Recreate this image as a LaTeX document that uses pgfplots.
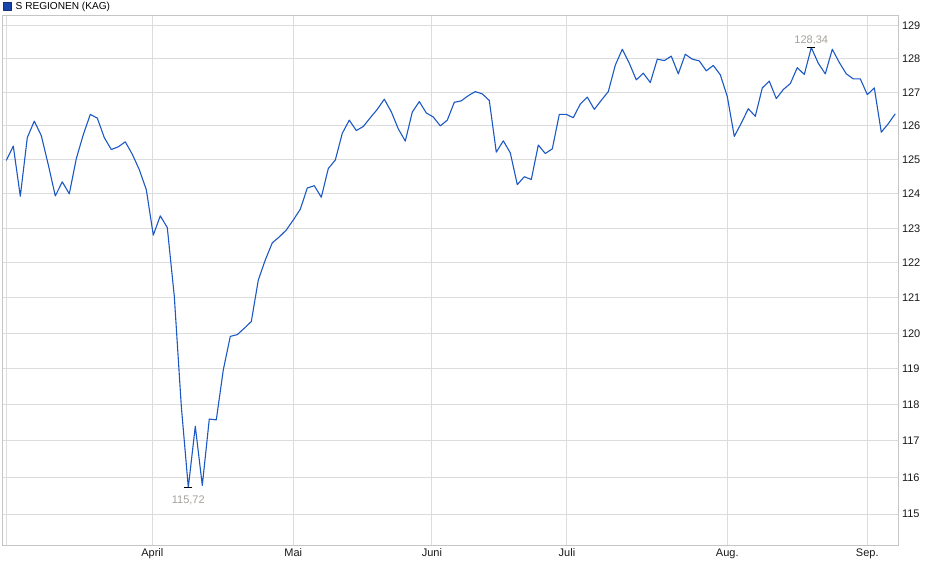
\documentclass[border=0pt]{standalone}
\usepackage{pgfplots}
\pgfplotsset{compat=1.18}
\usepackage{fontspec}
\setmainfont{Liberation Sans}

\definecolor{lineblue}{RGB}{28,88,196}
\definecolor{boxblue}{RGB}{22,70,170}
\definecolor{gridgray}{RGB}{220,220,220}
\definecolor{labelgray}{RGB}{165,160,155}

\begin{document}
\begin{tikzpicture}
\begin{axis}[
  scale only axis,
  width=895.6pt, height=529.3pt,
  % logarithmische Skala, von Hand (ymode=log laeuft bei so kleiner Spanne ueber)
  y coord trafo/.code={\pgfmathparse{1000*ln(#1/114)}},
  xmin=-0.514, xmax=127.43,
  ymin=114.16, ymax=129.3,
  xtick={0,20.86,41,60.81,80.1,103,123},
  xticklabels={,April,Mai,Juni,Juli,Aug.,Sep.},
  ytick={115,116,117,118,119,120,121,122,123,124,125,126,127,128,129},
  yticklabels={115,116,117,118,119,120,121,122,123,124,125,126,127,128,129},
  yticklabel pos=right,
  minor tick num=0,
  major tick length=0pt,
  /pgf/number format/assume math mode=true,
  tick label style={font=\fontsize{11}{13}\selectfont, text=black!90, inner sep=0pt},
  xticklabel style={anchor=north, yshift=-3pt},
  yticklabel style={anchor=west, xshift=3.5pt},
  grid=major,
  major grid style={gridgray, line width=1pt},
  axis line style={gridgray!90!black, line width=1pt},
  legend style={at={(axis description cs:0.0003,1.0055)}, anchor=south west,
    draw=none, fill=none, inner sep=0pt, outer sep=0pt,
    font=\fontsize{10.1}{12}\selectfont,
    legend cell align=left},
  legend image code/.code={%
    \draw[boxblue!70!black, fill=boxblue, line width=0.8pt] (0pt,-3.8pt) rectangle (7.6pt,3.8pt);
    \path (9.8pt,0pt);},
]
\addplot[lineblue, line width=1.1pt, line join=round] coordinates {
(0,124.98) (1,125.40) (2,123.93) (3,125.65) (4,126.14) (5,125.71) (6,124.85) (7,123.94)
(8,124.35) (9,124.00) (10,125.03) (11,125.74) (12,126.34) (13,126.23) (14,125.65) (15,125.30)
(16,125.38) (17,125.53) (18,125.16) (19,124.71) (20,124.12) (21,122.80) (22,123.36) (23,123.02)
(24,121.05) (25,117.96) (26,115.72) (27,117.40) (28,115.78) (29,117.60) (30,117.58) (31,118.97)
(32,119.91) (33,119.96) (34,120.14) (35,120.33) (36,121.51) (37,122.09) (38,122.58) (39,122.75)
(40,122.95) (41,123.24) (42,123.55) (43,124.17) (44,124.24) (45,123.90) (46,124.74) (47,124.99)
(48,125.78) (49,126.17) (50,125.86) (51,125.98) (52,126.24) (53,126.49) (54,126.79) (55,126.42)
(56,125.91) (57,125.55) (58,126.41) (59,126.72) (60,126.38) (61,126.26) (62,126.00) (63,126.17)
(64,126.70) (65,126.74) (66,126.90) (67,127.02) (68,126.95) (69,126.75) (70,125.22) (71,125.56)
(72,125.20) (73,124.27) (74,124.50) (75,124.42) (76,125.43) (77,125.18) (78,125.32) (79,126.34)
(80,126.34) (81,126.24) (82,126.65) (83,126.85) (84,126.49) (85,126.76) (86,127.02) (87,127.81)
(88,128.29) (89,127.87) (90,127.37) (91,127.57) (92,127.29) (93,127.99) (94,127.95) (95,128.08)
(96,127.55) (97,128.14) (98,127.99) (99,127.94) (100,127.64) (101,127.80) (102,127.52) (103,126.87)
(104,125.69) (105,126.08) (106,126.51) (107,126.28) (108,127.13) (109,127.33) (110,126.81) (111,127.08)
(112,127.26) (113,127.74) (114,127.53) (115,128.34) (116,127.87) (117,127.55) (118,128.29) (119,127.89)
(120,127.55) (121,127.40) (122,127.40) (123,126.93) (124,127.13) (125,125.81) (126,126.06) (127,126.36)
};
\addlegendentry{S REGIONEN (KAG)}
% Tief und Hoch markieren
\addplot[only marks, mark=-, mark size=4pt, mark options={black, line width=1pt},
  nodes near coords={115,72},
  nodes near coords style={anchor=base, yshift=-15.8pt, inner sep=0pt,
    text=labelgray, font=\fontsize{11}{13}\selectfont}]
  coordinates {(26,115.72)};
\addplot[only marks, mark=-, mark size=4pt, mark options={black, line width=1pt},
  nodes near coords={128,34},
  nodes near coords style={anchor=base, yshift=4.2pt, inner sep=0pt,
    text=labelgray, font=\fontsize{11}{13}\selectfont}]
  coordinates {(115,128.34)};
\end{axis}
\pgfresetboundingbox
\path ([xshift=-2.7pt,yshift=-33.7pt]current axis.south west)
  rectangle ([xshift=41.7pt,yshift=16pt]current axis.north east);
\end{tikzpicture}
\end{document}
